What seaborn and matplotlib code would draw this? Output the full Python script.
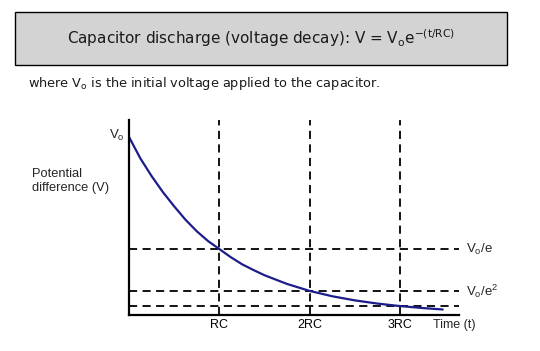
import matplotlib
matplotlib.use("Agg")
import matplotlib.pyplot as plt
from matplotlib.patches import Rectangle
import seaborn as sns

# values (t in units of RC, V in units of Vo)
time_rc = [0, 0.125, 0.25, 0.375, 0.5, 0.625, 0.75, 0.875, 1.0, 1.125, 1.25, 1.375, 1.5,
           1.75, 2.0, 2.25, 2.5, 2.75, 3.0, 3.25, 3.47]
voltage = [1.0, 0.88, 0.78, 0.69, 0.61, 0.535, 0.47, 0.415, 0.37, 0.325, 0.285, 0.253, 0.223,
           0.174, 0.135, 0.105, 0.082, 0.064, 0.05, 0.039, 0.031]
level_values = [0.368, 0.135, 0.05]
level_labels = ["V$_\\mathregular{o}$/e", "V$_\\mathregular{o}$/e$^\\mathregular{2}$", ""]
tick_positions = [1, 2, 3]
tick_labels = ["RC", "2RC", "3RC"]

sns.set_style("white")
plt.rcParams["font.family"] = ["Liberation Sans", "DejaVu Sans"]

fig = plt.figure(figsize=(5.4, 3.51), dpi=100)
ax = fig.add_axes([129 / 540, 36 / 351, 330 / 540, 195 / 351])

# header box
fig.patches.append(Rectangle((15 / 540, 1 - 65 / 351), 492 / 540, 53 / 351,
                             transform=fig.transFigure, facecolor="#d3d3d3",
                             edgecolor="black", linewidth=1))
fig.text(261 / 540, 1 - 38 / 351,
         "Capacitor discharge (voltage decay): V = V$_\\mathregular{o}$e$^\\mathregular{-(t/RC)}$",
         ha="center", va="center", fontsize=11, family="DejaVu Sans", color="#1a1a1a")
fig.text(28 / 540, 1 - 83 / 351,
         "where V$_\\mathregular{o}$ is the initial voltage applied to the capacitor.",
         ha="left", va="center", fontsize=9.3, family="DejaVu Sans", color="#1a1a1a")

# dashed guides
for y, lab in zip(level_values, level_labels):
    ax.axhline(y, color="black", lw=1.3, dashes=(4.5, 3))
    if lab:
        ax.text(3.73, y, lab, ha="left", va="center", fontsize=9.5, clip_on=False)
for x in tick_positions:
    ax.axvline(x, color="black", lw=1.3, dashes=(4.5, 3))

sns.lineplot(x=time_rc, y=voltage, ax=ax, color="#1c1c8a", lw=1.6)

ax.set_xlim(0, 3.65)
ax.set_ylim(0, 1.095)
ax.set_xticks(tick_positions)
ax.set_xticklabels(tick_labels, fontsize=9)
ax.set_yticks([])
ax.tick_params(axis="x", direction="in", length=4, width=1.3, pad=3, colors="black")
for side in ["top", "right"]:
    ax.spines[side].set_visible(False)
for side in ["left", "bottom"]:
    ax.spines[side].set_linewidth(1.6)
    ax.spines[side].set_color("black")

ax.text(-0.05, 1.01, "V$_\\mathregular{o}$", ha="right", va="center", fontsize=9.5, clip_on=False)
fig.text(32 / 540, 1 - 181 / 351, "Potential\ndifference (V)", ha="left", va="center",
         fontsize=9.3, linespacing=1.15)
fig.text(433 / 540, 1 - 325 / 351, "Time (t)", ha="left", va="center", fontsize=9)

fig.savefig("out.png", dpi=100)
